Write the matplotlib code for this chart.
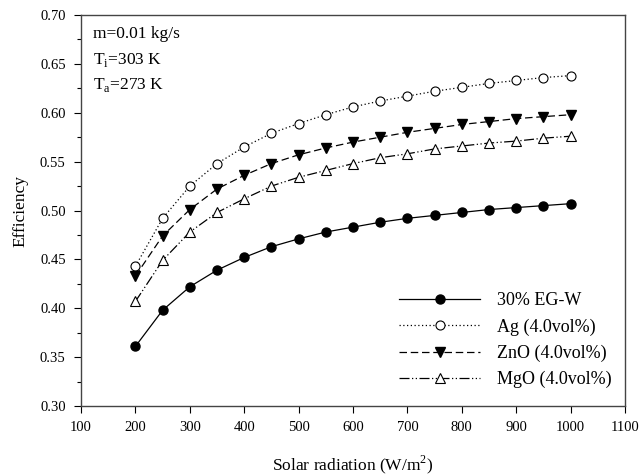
import matplotlib
matplotlib.use("Agg")
import matplotlib.pyplot as plt
from matplotlib.ticker import MultipleLocator

plt.rcParams['font.family'] = ['Liberation Serif', 'DejaVu Serif']
plt.rcParams['mathtext.fontset'] = 'custom'
plt.rcParams['mathtext.rm'] = 'Liberation Serif'

# solar radiation (W/m2)
radiation = [200, 250, 300, 350, 400, 450, 500, 550, 600,
             650, 700, 750, 800, 850, 900, 950, 1000]

# collector efficiency for each working fluid
eff_egw = [0.361, 0.398, 0.422, 0.439, 0.452, 0.463, 0.471, 0.478, 0.483,
           0.488, 0.492, 0.495, 0.498, 0.501, 0.503, 0.505, 0.507]
eff_ag = [0.443, 0.492, 0.525, 0.548, 0.565, 0.579, 0.589, 0.598, 0.606,
          0.612, 0.617, 0.622, 0.626, 0.630, 0.633, 0.636, 0.638]
eff_zno = [0.433, 0.474, 0.501, 0.522, 0.536, 0.548, 0.557, 0.564, 0.570,
           0.575, 0.580, 0.584, 0.588, 0.591, 0.594, 0.596, 0.598]
eff_mgo = [0.407, 0.449, 0.478, 0.498, 0.512, 0.525, 0.534, 0.541, 0.548,
           0.554, 0.558, 0.563, 0.566, 0.569, 0.571, 0.574, 0.576]

labels = ['30% EG-W', 'Ag (4.0vol%)', 'ZnO (4.0vol%)', 'MgO (4.0vol%)']

fig = plt.figure(figsize=(6.4, 4.76), dpi=100)
ax = fig.add_axes([0.1266, 0.147, 0.85, 0.8215])

ms = 6.5
ax.plot(radiation, eff_egw, color='black', lw=0.9, ls='-', marker='o',
        ms=ms, mfc='black', mec='black', label=labels[0])
ax.plot(radiation, eff_ag, color='black', lw=0.9, ls=(0, (1, 2)), marker='o',
        ms=ms, mfc='white', mec='black', mew=0.8, label=labels[1])
ax.plot(radiation, eff_zno, color='black', lw=0.9, ls=(0, (6, 3)), marker='v',
        ms=ms, mfc='black', mec='black', label=labels[2])
ax.plot(radiation, eff_mgo, color='black', lw=0.9, ls=(0, (8, 2, 1, 2, 1, 2)),
        marker='^', ms=ms, mfc='white', mec='black', mew=0.8, label=labels[3])

ax.set_xlim(100, 1100)
ax.set_ylim(0.30, 0.70)
ax.xaxis.set_major_locator(MultipleLocator(100))
ax.yaxis.set_major_locator(MultipleLocator(0.05))
ax.yaxis.set_minor_locator(MultipleLocator(0.025))
ax.yaxis.set_major_formatter(plt.FormatStrFormatter('%.2f'))
ax.tick_params(axis='both', which='major', direction='out', length=5,
               width=0.8, labelsize=10.5, pad=6)
ax.tick_params(axis='y', which='minor', direction='out', length=3, width=0.8)
for sp in ax.spines.values():
    sp.set_color('#444444')
    sp.set_linewidth(1.0)

ax.set_xlabel('Solar radiation (W/m$^{2}$)', fontsize=12.5, labelpad=14)
ax.set_ylabel('Efficiency', fontsize=12.5, labelpad=8)

ax.text(0.022, 0.972, 'm=0.01 kg/s', transform=ax.transAxes, fontsize=12.5,
        va='top', ha='left')
ax.text(0.022, 0.908, 'T$_{\\rm i}$=303 K', transform=ax.transAxes,
        fontsize=12.5, va='top', ha='left')
ax.text(0.022, 0.844, 'T$_{\\rm a}$=273 K', transform=ax.transAxes,
        fontsize=12.5, va='top', ha='left')

ax.legend(loc='lower right', bbox_to_anchor=(0.976, 0.045), frameon=False,
          fontsize=13, handlelength=4.5, handletextpad=0.95,
          labelspacing=0.5, borderpad=0, borderaxespad=0)

fig.savefig('out.png', dpi=100)
